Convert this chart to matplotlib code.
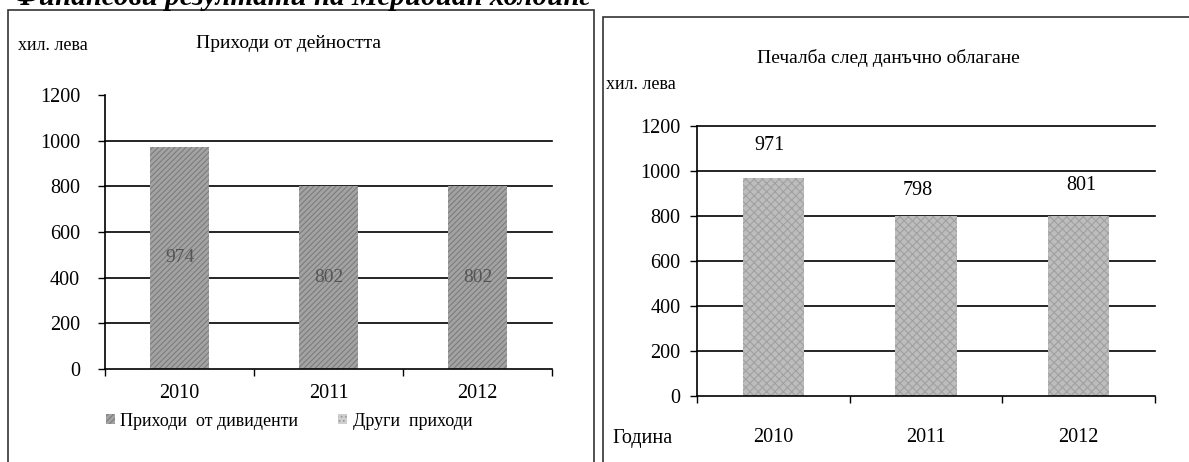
import matplotlib
matplotlib.use('Agg')
import matplotlib.pyplot as plt
from matplotlib.patches import Rectangle, Patch

plt.rcParams['font.family'] = ['Liberation Serif', 'DejaVu Serif']
plt.rcParams['hatch.linewidth'] = 0.8

years = ['2010', '2011', '2012']
dividends = [974, 802, 802]
other_income = [0, 0, 0]
profit = [971, 798, 801]
yticks = [0, 200, 400, 600, 800, 1000, 1200]

W, H = 1189, 462
fig = plt.figure(figsize=(W / 100, H / 100), dpi=100)

# cut-off heading at the very top
fig.text(14 / W, 1 - 5 / H, 'Финансови резултати на Меридиан холдинг',
         fontsize=21, fontweight='bold', fontstyle='italic', va='baseline')

# panel frames
fig.patches.append(Rectangle((8 / W, -0.02), 586 / W, 1.02 - 10 / H, transform=fig.transFigure,
                             fill=False, lw=1.2, ec='#333333'))
fig.patches.append(Rectangle((603 / W, -0.02), 600 / W, 1.02 - 17 / H, transform=fig.transFigure,
                             fill=False, lw=1.2, ec='#333333'))


def style_axis(ax, top_line, xpad, ypad):
    ax.set_xlim(-0.5, 2.5)
    ax.set_ylim(0, 1200)
    ax.set_yticks(yticks)
    ax.set_xticks(range(3))
    ax.set_xticklabels(years, fontsize=14.5)
    ax.set_xticks([-0.5, 0.5, 1.5, 2.5], minor=True)
    ax.tick_params(axis='x', which='major', length=0, pad=xpad)
    ax.tick_params(axis='x', which='minor', length=5, width=1, direction='out')
    ax.tick_params(axis='y', length=5, width=1, labelsize=14.5, pad=ypad)
    for s in ['top', 'right']:
        ax.spines[s].set_visible(False)
    for s in ['left', 'bottom']:
        ax.spines[s].set_linewidth(1.2)
    lines = yticks[1:] if top_line else yticks[1:-1]
    for v in lines:
        ax.axhline(v, color='black', lw=1.2, zorder=1, clip_on=False)


# left chart
ax1 = fig.add_axes([105 / W, 1 - 369 / H, 447 / W, 274 / H])
ax1.bar(range(3), dividends, width=0.4, color='#a3a3a3', hatch='//////',
        edgecolor='#7c7c7c', linewidth=0, zorder=2)
ax1.bar(range(3), other_income, bottom=dividends, width=0.4, color='#cfcfcf',
        hatch='....', edgecolor='#9a9a9a', linewidth=0, zorder=2)
for i, v in enumerate(dividends):
    ax1.text(i, v / 2, str(v), ha='center', va='center', fontsize=14, color='#555555', zorder=3)
style_axis(ax1, top_line=False, xpad=11, ypad=13)
fig.text(18 / W, 1 - 46 / H, 'хил. лева', fontsize=13, va='center')
fig.text(288 / W, 1 - 44 / H, 'Приходи от дейността', fontsize=14, va='center', ha='center')
handles = [Patch(facecolor='#a3a3a3', hatch='//////', edgecolor='#7c7c7c', lw=0),
           Patch(facecolor='#cfcfcf', hatch='....', edgecolor='#9a9a9a', lw=0)]
fig.legend(handles, ['Приходи  от дивиденти', 'Други  приходи'], loc='center left',
           bbox_to_anchor=(106 / W, 1 - 421 / H), ncol=2, frameon=False, fontsize=13,
           handlelength=0.5, handleheight=0.5, handletextpad=0.3, columnspacing=2.2,
           borderpad=0, borderaxespad=0)

# right chart
ax2 = fig.add_axes([697 / W, 1 - 396 / H, 458 / W, 270 / H])
ax2.bar(range(3), profit, width=0.4, color='#bdbdbd', hatch='xxxx',
        edgecolor='#a0a0a0', linewidth=0, zorder=2)
label_offsets = [(-3, 23), (-6, 19), (2, 22)]
for i, v in enumerate(profit):
    ax2.annotate(str(v), (i, v), xytext=label_offsets[i], textcoords='offset points',
                 ha='center', va='center', fontsize=14.5)
style_axis(ax2, top_line=True, xpad=23, ypad=7)
fig.text(888 / W, 1 - 58 / H, 'Печалба след данъчно облагане', fontsize=14, va='center', ha='center')
fig.text(606 / W, 1 - 85 / H, 'хил. лева', fontsize=13, va='center')
fig.text(612 / W, 1 - 438 / H, 'Година', fontsize=14.5, va='center')

fig.savefig('out.png', dpi=100)
